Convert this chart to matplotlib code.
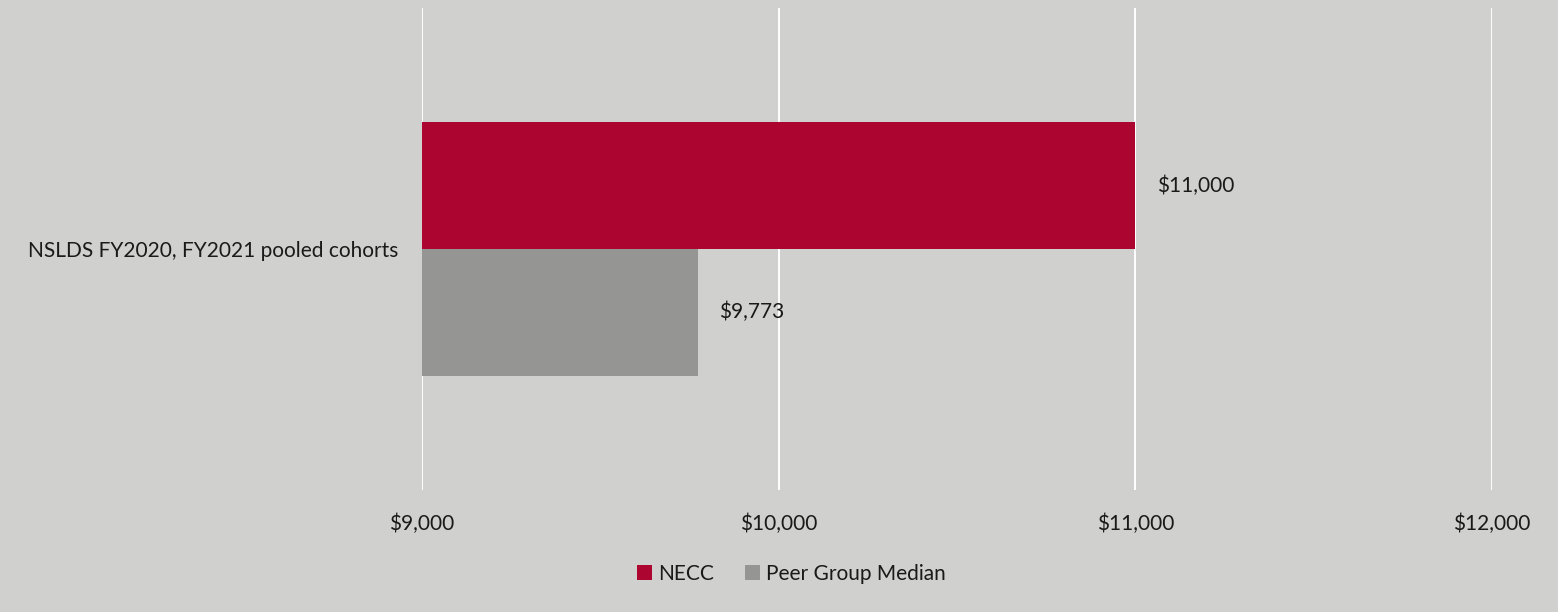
import matplotlib.pyplot as plt
import numpy as np

plt.rcParams['font.family'] = ['Lato', 'DejaVu Sans']

categories = ['NSLDS FY2020, FY2021 pooled cohorts']
series = ['NECC', 'Peer Group Median']
values = [[11000], [9773]]
colors = ['#AC0530', '#959593']
xticks = [9000, 10000, 11000, 12000]
bg = '#D0D0CE'

fig = plt.figure(figsize=(15.58, 6.12), dpi=100, facecolor=bg)
ax = fig.add_axes([0.2709, 0.1993, 0.6867, 0.7877], facecolor=bg)

h = 0.2625
y = np.arange(len(categories))
for i, (name, vals) in enumerate(zip(series, values)):
    pos = y + (i - 0.5) * h
    ax.barh(pos, np.array(vals) - xticks[0], left=xticks[0], height=h,
            color=colors[i], label=name, zorder=3)
    for p, v in zip(pos, vals):
        ax.text(v + 60, p, f'${v:,.0f}', va='center', ha='left',
                fontsize=15, color='#1a1a1a')

ax.set_xlim(xticks[0], xticks[-1])
ax.set_ylim(-0.5, 0.5)
ax.invert_yaxis()
ax.set_xticks(xticks)
ax.set_xticklabels([f'${t:,.0f}' for t in xticks], fontsize=15, color='#1a1a1a')
ax.set_yticks(y)
ax.set_yticklabels(categories, fontsize=15, color='#1a1a1a')
ax.tick_params(length=0, pad=17, axis='y')
ax.tick_params(length=0, pad=17, axis='x')
ax.grid(axis='x', color='white', linewidth=1.4, zorder=0)
for s in ax.spines.values():
    s.set_visible(False)

fig.legend(loc='center', bbox_to_anchor=(0.508, 0.062), ncol=2, frameon=False,
           fontsize=15, handlelength=0.7, handleheight=0.7, handletextpad=0.3,
           columnspacing=1.5, labelcolor='#1a1a1a')

fig.savefig('out.png', dpi=100, facecolor=bg)
